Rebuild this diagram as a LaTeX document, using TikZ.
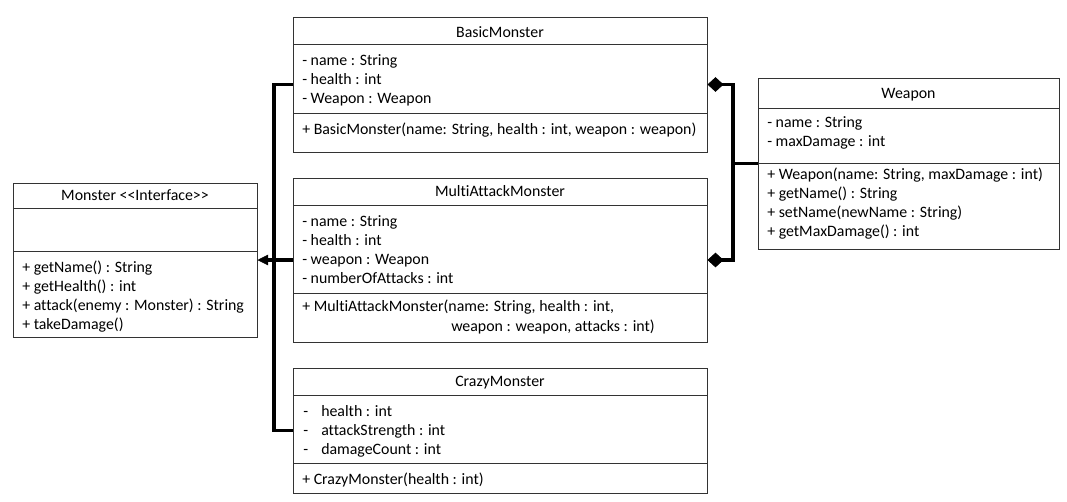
\documentclass[tikz,border=0pt]{standalone}
\usepackage{fontspec}
\setmainfont{Carlito}[Ligatures={NoCommon}]
\usetikzlibrary{arrows.meta,fit}
\tikzset{%
  tipA/.tip={Triangle[length=8pt,width=8pt,line width=0.5pt]},
  tipB/.tip={Diamond[length=12pt,width=11pt,line width=0.5pt]},
  umlbox/.style={draw=black!80, line width=0.75pt, inner sep=0pt},
  divider/.style={draw=black!80, line width=0.75pt},
  member/.style={anchor=west, inner sep=0pt, text height=8.5pt, text depth=2.5pt, font=\fontsize{11.9}{14}\selectfont},
  classname/.style={member, anchor=center},
  link/.style={line width=2.6pt}
}
\newcommand{\dashtab}{\makebox[13.5pt][l]{-}}

\begin{document}
\begin{tikzpicture}[x=0.75pt,y=-0.75pt]
\useasboundingbox (0,0) rectangle (1067,501);
% class boxes
\node[umlbox, fit={(13,183) (257,337)}] (monster) {};
\node[umlbox, fit={(293,17) (707,152)}] (basic) {};
\node[umlbox, fit={(293,178) (707,342)}] (multi) {};
\node[umlbox, fit={(293,368) (707,493)}] (crazy) {};
\node[umlbox, fit={(758,78) (1059,249)}] (weapon) {};
\draw[divider] (13,208) -- (257,208);
\draw[divider] (13,251) -- (257,251);
\draw[divider] (293,44) -- (707,44);
\draw[divider] (293,113) -- (707,113);
\draw[divider] (293,205) -- (707,205);
\draw[divider] (293,293) -- (707,293);
\draw[divider] (293,395) -- (707,395);
\draw[divider] (293,463) -- (707,463);
\draw[divider] (758,108) -- (1059,108);
\draw[divider] (758,163) -- (1059,163);
% Monster
\node[classname] (monster-t) at (135,196) {Monster <\kern0pt<Interface>\kern0pt>};
\foreach \t [count=\i] in {{+ getName() : String},{+ getHealth() : int},{+ attack(enemy : Monster) : String},{+ takeDamage()}}
  \node[member] (monster-m\i) at (22,249+19*\i) {\t};
% BasicMonster
\node[classname] (basic-t) at (500,33) {BasicMonster};
\foreach \t [count=\i] in {{- name : String},{- health : int},{- Weapon : Weapon}}
  \node[member] (basic-a\i) at (302,42+19*\i) {\t};
\node[member] (basic-m1) at (302,130) {+ BasicMonster(name: String, health : int, weapon : weapon)};
% MultiAttackMonster
\node[classname] (multi-t) at (500,192) {MultiAttackMonster};
\foreach \t [count=\i] in {{- name : String},{- health : int},{- weapon : Weapon},{- numberOfAttacks : int}}
  \node[member] (multi-a\i) at (302,203+19*\i) {\t};
\node[member] (multi-m1) at (302,307) {+ MultiAttackMonster(name: String, health : int,};
\node[member] (multi-m2) at (451,327) {weapon : weapon, attacks : int)};
% CrazyMonster
\node[classname] (crazy-t) at (500,382) {CrazyMonster};
\foreach \t [count=\i] in {{health : int},{attackStrength : int},{damageCount : int}}
  \node[member] (crazy-a\i) at (303,393+19*\i) {\dashtab\t};
\node[member] (crazy-m1) at (302,480) {+ CrazyMonster(health : int)};
% Weapon
\node[classname] (weapon-t) at (908.5,94) {Weapon};
\foreach \t [count=\i] in {{- name : String},{- maxDamage : int}}
  \node[member] (weapon-a\i) at (767,104+19*\i) {\t};
\foreach \t [count=\i] in {{+ Weapon(name: String, maxDamage : int)},{+ getName() : String},{+ setName(newName : String)},{+ getMaxDamage() : int}}
  \node[member] (weapon-m\i) at (767,156+19*\i) {\t};
% relations
\coordinate (gen) at (274,260);
\coordinate (agg) at (733,163.5);
\draw[link] (basic.west) -| (gen) |- (crazy.west);
\draw[link,-tipA] (multi.west) -- (monster.east);
\draw[link,tipB-tipB] (basic.east) -| (agg) |- (multi.east);
\draw[link] (agg) -- (weapon.west);
\end{tikzpicture}
\end{document}
